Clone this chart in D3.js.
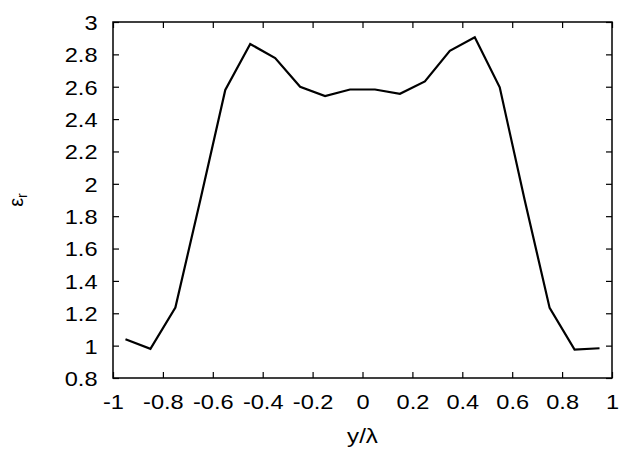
<!DOCTYPE html>
<html>
<head>
<meta charset="utf-8">
<script src="https://cdn.jsdelivr.net/npm/d3@7"></script>
<style>
  body { margin: 0; background: #fff; }
  svg { display: block; font-family: "Liberation Sans", Arial, sans-serif; }
</style>
</head>
<body>
<div id="chart"></div>
<script>
// y/lambda positions and relative permittivity
const yLambda = [-0.95, -0.85, -0.75, -0.65, -0.55, -0.45, -0.35, -0.25, -0.15, -0.05,
                 0.05, 0.15, 0.25, 0.35, 0.45, 0.55, 0.65, 0.75, 0.85, 0.95];
const epsR = [1.04, 0.98, 1.235, 1.9, 2.58, 2.864, 2.777, 2.60, 2.542, 2.583,
              2.583, 2.556, 2.633, 2.822, 2.905, 2.596, 1.9, 1.233, 0.976, 0.984];
const xTicks = [-1, -0.8, -0.6, -0.4, -0.2, 0, 0.2, 0.4, 0.6, 0.8, 1];
const yTicks = [0.8, 1, 1.2, 1.4, 1.6, 1.8, 2, 2.2, 2.4, 2.6, 2.8, 3];

const width = 620, height = 452;
const margin = { left: 113, right: 8, top: 22, bottom: 74 };
const fontSize = 20.5;
const stretch = 1.15; // reference glyphs are a bit wider than Liberation Sans

const svg = d3.select('#chart').append('svg')
  .attr('width', width)
  .attr('height', height);

const x = d3.scaleLinear().domain([-1, 1]).range([margin.left, width - margin.right]);
const y = d3.scaleLinear().domain([0.8, 3]).range([height - margin.bottom, margin.top]);

const fmt = d => String(+d.toFixed(1));
const tickLen = 6;

// bottom axis, labels outside, ticks inward
const xAxis = svg.append('g')
  .attr('transform', `translate(0,${y(0.8)})`)
  .call(d3.axisBottom(x).tickValues(xTicks).tickFormat(fmt).tickSizeInner(-tickLen).tickSizeOuter(0).tickPadding(16.5));
const yAxis = svg.append('g')
  .attr('transform', `translate(${x(-1)},0)`)
  .call(d3.axisLeft(y).tickValues(yTicks).tickFormat(fmt).tickSizeInner(-tickLen).tickSizeOuter(0).tickPadding(15.5));
// mirrored ticks on top and right, no labels
svg.append('g')
  .attr('transform', `translate(0,${y(3)})`)
  .call(d3.axisTop(x).tickValues(xTicks).tickFormat('').tickSizeInner(-tickLen).tickSizeOuter(0));
svg.append('g')
  .attr('transform', `translate(${x(1)},0)`)
  .call(d3.axisRight(y).tickValues(yTicks).tickFormat('').tickSizeInner(-tickLen).tickSizeOuter(0));

svg.selectAll('.domain').remove();
svg.selectAll('.tick line').attr('stroke', '#000').attr('stroke-width', 1.2);
svg.selectAll('g').attr('font-size', null).attr('font-family', null);
svg.selectAll('.tick text').attr('font-size', fontSize).attr('fill', '#000');
yAxis.selectAll('.tick text').attr('dy', '0.36em');

// frame
svg.append('rect')
  .attr('x', x(-1)).attr('y', y(3))
  .attr('width', x(1) - x(-1)).attr('height', y(0.8) - y(3))
  .attr('fill', 'none').attr('stroke', '#000').attr('stroke-width', 1.5);

// data line
const line = d3.line()
  .x((d, i) => x(yLambda[i]))
  .y(d => y(d));
svg.append('path')
  .datum(epsR)
  .attr('d', line)
  .attr('fill', 'none')
  .attr('stroke', '#000')
  .attr('stroke-width', 2.2)
  .attr('stroke-linejoin', 'miter');

// axis titles
svg.append('text')
  .attr('class', 'wide')
  .attr('x', (x(-1) + x(1)) / 2)
  .attr('y', 443)
  .attr('text-anchor', 'middle')
  .attr('font-size', 21)
  .attr('fill', '#000')
  .text('y/λ');

const yl = svg.append('text')
  .attr('transform', `translate(23,${(y(0.8) + y(3)) / 2}) rotate(-90)`)
  .attr('text-anchor', 'middle')
  .attr('fill', '#000')
  .attr('font-size', 20);
yl.append('tspan').text('ε');
yl.append('tspan').attr('font-size', 14).attr('dy', 4).text('r');

// widen labels a little to match the reference lettering
svg.selectAll('.tick text, text.wide').each(function () {
  const len = this.getComputedTextLength();
  if (len > 0) {
    d3.select(this)
      .attr('textLength', len * stretch)
      .attr('lengthAdjust', 'spacingAndGlyphs');
  }
});
</script>
</body>
</html>
